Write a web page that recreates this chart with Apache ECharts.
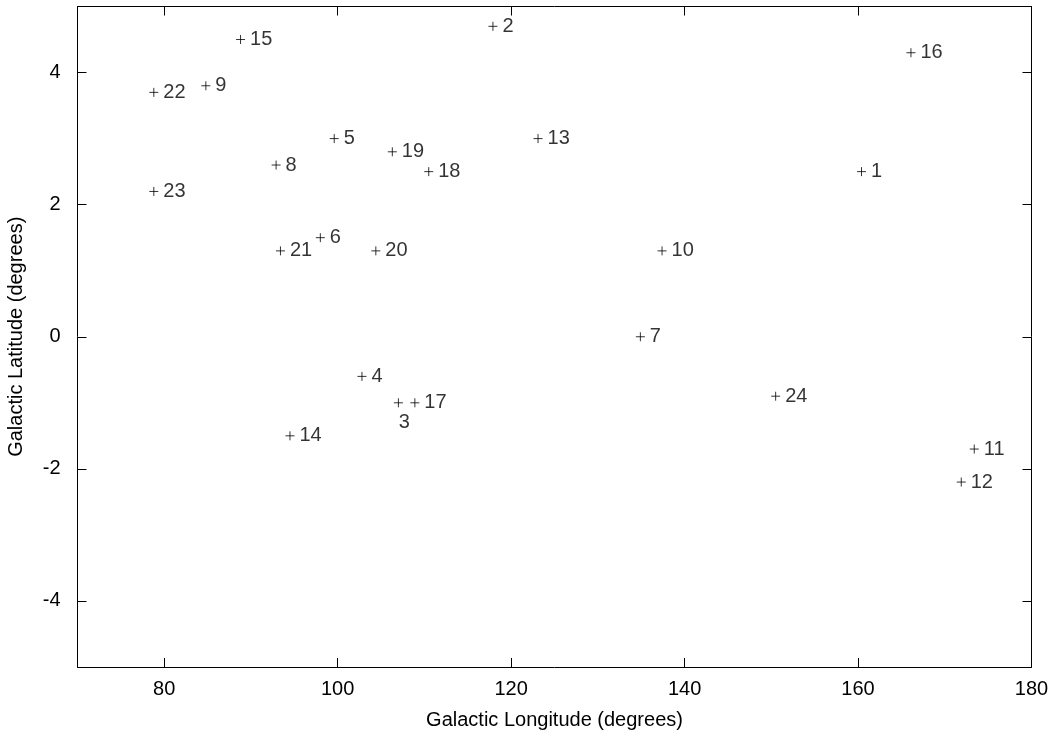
<!DOCTYPE html>
<html>
<head>
<meta charset="utf-8">
<script src="https://cdn.jsdelivr.net/npm/echarts@6/dist/echarts.min.js"></script>
<style>
html,body{margin:0;padding:0;background:#fff;}
#chart{width:1053px;height:732px;}
</style>
</head>
<body>
<div id="chart"></div>
<script>
const pointLabels = ['1','2','3','4','5','6','7','8','9','10','11','12','13','14','15','16','17','18','19','20','21','22','23','24'];
const longitude = [160.4, 117.9, 107.0, 102.8, 99.6, 98.0, 134.9, 92.9, 84.8, 137.4, 173.4, 171.9, 123.1, 94.5, 88.8, 166.1, 108.9, 110.5, 106.3, 104.4, 93.4, 78.8, 78.8, 150.5];
const latitude = [2.5, 4.7, -1.0, -0.6, 3.0, 1.5, 0.0, 2.6, 3.8, 1.3, -1.7, -2.2, 3.0, -1.5, 4.5, 4.3, -1.0, 2.5, 2.8, 1.3, 1.3, 3.7, 2.2, -0.9];
const xTicks = [80, 100, 120, 140, 160, 180];
const yTicks = [-4, -2, 0, 2, 4];
const labelsBelow = ['3'];

const FONT = '"Liberation Sans", Arial, Helvetica, sans-serif';
const FS = 20;
const data = pointLabels.map((name, i) => {
  const d = { name: name, value: [longitude[i], latitude[i]] };
  if (labelsBelow.includes(name)) {
    d.label = { position: 'bottom', distance: 3, offset: [6, 0] };
  }
  return d;
});

const axisLineStyle = { show: true, onZero: false, lineStyle: { color: '#000', width: 1 } };
function mkX(pos, showLabel) {
  return {
    type: 'value', min: 70, max: 180, position: pos,
    axisLine: axisLineStyle,
    axisTick: { show: true, inside: true, length: 9, customValues: xTicks, lineStyle: { color: '#000', width: 1 } },
    axisLabel: { show: showLabel, customValues: xTicks, color: '#000', fontFamily: FONT, fontSize: FS, margin: 12 },
    splitLine: { show: false },
    name: showLabel ? 'Galactic Longitude (degrees)' : '',
    nameLocation: 'middle', nameGap: 43,
    nameTextStyle: { color: '#000', fontFamily: FONT, fontSize: FS }
  };
}
function mkY(pos, showLabel) {
  return {
    type: 'value', min: -5, max: 5, position: pos,
    axisLine: axisLineStyle,
    axisTick: { show: true, inside: true, length: 9, customValues: yTicks, lineStyle: { color: '#000', width: 1 } },
    axisLabel: { show: showLabel, customValues: yTicks, color: '#000', fontFamily: FONT, fontSize: FS, margin: 17 },
    splitLine: { show: false },
    name: showLabel ? 'Galactic Latitude (degrees)' : '',
    nameLocation: 'middle', nameGap: 51, nameRotate: 90,
    nameTextStyle: { color: '#000', fontFamily: FONT, fontSize: FS }
  };
}

const chart = echarts.init(document.getElementById('chart'), null, { renderer: 'canvas' });
chart.setOption({
  animation: false,
  backgroundColor: '#fff',
  grid: { left: 77.5, right: 21.5, top: 6.5, bottom: 65, containLabel: false, outerBoundsMode: 'none' },
  xAxis: [mkX('bottom', true), mkX('top', false)],
  yAxis: [mkY('left', true), mkY('right', false)],
  series: [{
    type: 'scatter',
    xAxisIndex: 0, yAxisIndex: 0,
    symbol: 'path://M0,5L10,5M5,0L5,10',
    symbolSize: 9,
    itemStyle: { color: 'none', borderColor: '#000', borderWidth: 1 },
    label: {
      show: true, position: 'right', distance: 2.5,
      formatter: p => p.name,
      color: '#000', fontFamily: FONT, fontSize: FS
    },
    emphasis: { disabled: true },
    data: data
  }]
});
</script>
</body>
</html>
